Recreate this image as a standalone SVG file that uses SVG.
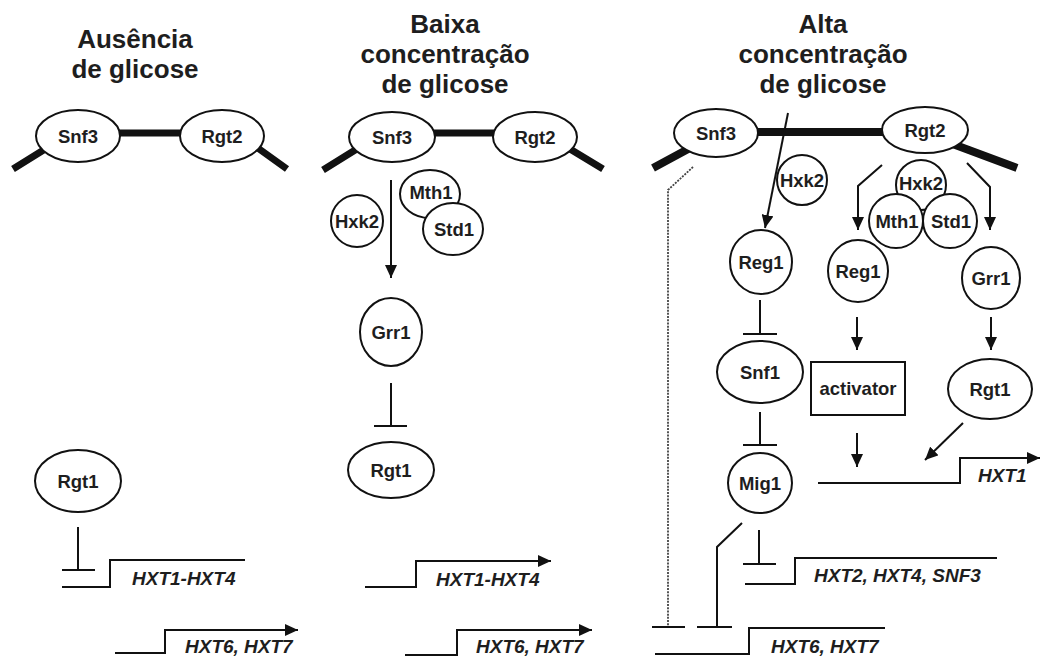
<svg xmlns="http://www.w3.org/2000/svg" width="1040" height="660" viewBox="0 0 1040 660">
<defs>
<marker id="ah" markerUnits="userSpaceOnUse" markerWidth="13" markerHeight="12" refX="13" refY="6" orient="auto" viewBox="0 0 13 12"><path d="M0,0 L13,6 L0,12 z" fill="#111"/></marker>
<style>
.t{font-family:"Liberation Sans",Arial,sans-serif;font-weight:bold;fill:#1e1e1e;text-anchor:middle}
.title{font-size:26px}
.n{font-size:18.5px}
.g{font-family:"Liberation Sans",Arial,sans-serif;font-weight:bold;font-style:italic;font-size:19px;fill:#1e1e1e}
.sh{fill:#fff;stroke:#111;stroke-width:2}
.mem{stroke:#111;stroke-width:7;fill:none}
.ln{stroke:#111;stroke-width:2;fill:none}
.ar{stroke:#111;stroke-width:2;fill:none;marker-end:url(#ah)}
.dot{stroke:#444;stroke-width:1.8;fill:none;stroke-dasharray:2 1.2}
</style>
</defs>
<rect width="1040" height="660" fill="#fff"/>

<g id="titles">
<text class="t title" x="135" y="48">Ausência</text>
<text class="t title" x="135" y="78">de glicose</text>
<text class="t title" x="445" y="33">Baixa</text>
<text class="t title" x="445" y="63">concentração</text>
<text class="t title" x="445" y="93">de glicose</text>
<text class="t title" x="823" y="33">Alta</text>
<text class="t title" x="823" y="63">concentração</text>
<text class="t title" x="823" y="93">de glicose</text>
</g>

<g id="membranes">
<path class="mem" d="M13,169 L50,146 M100,133 L200,133 M255,146 L287,169"/>
<path class="mem" d="M323,170 L360,147 M420,133 L510,133 M565,146 L603,169"/>
<path class="mem" d="M653,168 L690,148 M740,132 L900,132 M950,143 L1017,168" style="stroke-width:8"/>
</g>

<g id="connectors">
<!-- panel 1 -->
<path class="ln" d="M78,527 L78,570 M62,570 L95,570"/>
<!-- panel 2 -->
<path class="ar" d="M391,180 L391,278"/>
<path class="ln" d="M391,383 L391,426 M374,426 L407,426"/>
<!-- panel 3 -->
<path class="ar" d="M788,113 L765,228"/>
<path class="ar" d="M882,165 L858,186 L858,230"/>
<path class="ar" d="M967,163 L990,187 L990,230"/>
<path class="ln" d="M760,300 L760,334 M743,334 L777,334"/>
<path class="ln" d="M760,412 L760,445 M743,445 L777,445"/>
<path class="ar" d="M857,317 L857,350"/>
<path class="ar" d="M857,433 L857,467"/>
<path class="ar" d="M991,317 L991,350"/>
<path class="ar" d="M963,423 L925,460"/>
<path class="ln" d="M759,530 L759,564 M743,564 L776,564"/>
<path class="ln" d="M742,523 L717,547 L717,627 M697,627 L732,627"/>
<path class="dot" d="M693,167 L668,190 L668,627"/>
<path class="ln" d="M652,627 L685,627"/>
</g>

<!-- panel 1 nodes -->
<g id="p1-snf3"><ellipse class="sh" cx="78" cy="136" rx="42" ry="26"/><text class="t n" x="78" y="143">Snf3</text></g>
<g id="p1-rgt2"><ellipse class="sh" cx="222" cy="136" rx="42" ry="26"/><text class="t n" x="222" y="143">Rgt2</text></g>
<g id="p1-rgt1"><ellipse class="sh" cx="78" cy="481" rx="43" ry="31"/><text class="t n" x="78" y="488">Rgt1</text></g>
<g id="p1-hxt14"><path class="ln" d="M62,587 L110,587 L110,560 L245,560"/><text class="g" x="132" y="585">HXT1-HXT4</text></g>
<g id="p1-hxt67"><path class="ar" d="M115,653 L165,653 L165,630 L298,630"/><text class="g" x="185" y="653">HXT6, HXT7</text></g>

<!-- panel 2 nodes -->
<g id="p2-snf3"><ellipse class="sh" cx="392" cy="137" rx="43" ry="25"/><text class="t n" x="392" y="144">Snf3</text></g>
<g id="p2-rgt2"><ellipse class="sh" cx="535" cy="137" rx="42" ry="25"/><text class="t n" x="535" y="144">Rgt2</text></g>
<g id="p2-hxk2"><circle class="sh" cx="357" cy="221" r="26"/><text class="t n" x="357" y="228">Hxk2</text></g>
<g id="p2-mth1"><ellipse class="sh" cx="430" cy="194" rx="30" ry="24"/><text class="t n" x="431" y="199">Mth1</text></g>
<g id="p2-std1"><ellipse class="sh" cx="453" cy="229" rx="30" ry="26"/><text class="t n" x="454" y="236">Std1</text></g>
<g id="p2-grr1"><ellipse class="sh" cx="391" cy="332" rx="31" ry="34"/><text class="t n" x="391" y="339">Grr1</text></g>
<g id="p2-rgt1"><ellipse class="sh" cx="391" cy="470" rx="43" ry="28"/><text class="t n" x="391" y="477">Rgt1</text></g>
<g id="p2-hxt14"><path class="ar" d="M365,587 L416,587 L416,561 L551,561"/><text class="g" x="436" y="586">HXT1-HXT4</text></g>
<g id="p2-hxt67"><path class="ar" d="M405,655 L457,655 L457,630 L592,630"/><text class="g" x="476" y="653">HXT6, HXT7</text></g>

<!-- panel 3 nodes -->
<g id="p3-snf3"><ellipse class="sh" cx="716" cy="133" rx="42" ry="24"/><text class="t n" x="716" y="140">Snf3</text></g>
<g id="p3-rgt2"><ellipse class="sh" cx="925" cy="130" rx="43" ry="23"/><text class="t n" x="925" y="137">Rgt2</text></g>
<g id="p3-hxk2a"><circle class="sh" cx="802" cy="180" r="25"/><text class="t n" x="802" y="187">Hxk2</text></g>
<g id="p3-hxk2b"><circle class="sh" cx="921" cy="185" r="25"/><text class="t n" x="921" y="190">Hxk2</text></g>
<g id="p3-mth1"><circle class="sh" cx="896" cy="221" r="27"/><text class="t n" x="897" y="228">Mth1</text></g>
<g id="p3-std1"><circle class="sh" cx="950" cy="221" r="27"/><text class="t n" x="951" y="228">Std1</text></g>
<g id="p3-reg1a"><ellipse class="sh" cx="761" cy="262" rx="31" ry="32"/><text class="t n" x="761" y="269">Reg1</text></g>
<g id="p3-reg1b"><ellipse class="sh" cx="858" cy="271" rx="30" ry="31"/><text class="t n" x="858" y="278">Reg1</text></g>
<g id="p3-grr1"><ellipse class="sh" cx="991" cy="278" rx="29" ry="31"/><text class="t n" x="991" y="285">Grr1</text></g>
<g id="p3-snf1"><ellipse class="sh" cx="760" cy="372" rx="43" ry="31"/><text class="t n" x="760" y="379">Snf1</text></g>
<g id="p3-activator"><rect class="sh" x="811" y="362" width="94" height="53"/><text class="t n" x="858" y="395">activator</text></g>
<g id="p3-rgt1"><ellipse class="sh" cx="990" cy="389" rx="42" ry="30"/><text class="t n" x="990" y="396">Rgt1</text></g>
<g id="p3-mig1"><ellipse class="sh" cx="760" cy="483" rx="32" ry="30"/><text class="t n" x="760" y="490">Mig1</text></g>
<g id="p3-hxt1"><path class="ar" d="M818,483 L960,483 L960,458 L1040,458"/><text class="g" x="978" y="482">HXT1</text></g>
<g id="p3-hxt2"><path class="ln" d="M745,584 L795,584 L795,558 L997,558"/><text class="g" x="814" y="582">HXT2, HXT4, SNF3</text></g>
<g id="p3-hxt67"><path class="ln" d="M655,654 L749,654 L749,628 L885,628"/><text class="g" x="771" y="653">HXT6, HXT7</text></g>
</svg>
